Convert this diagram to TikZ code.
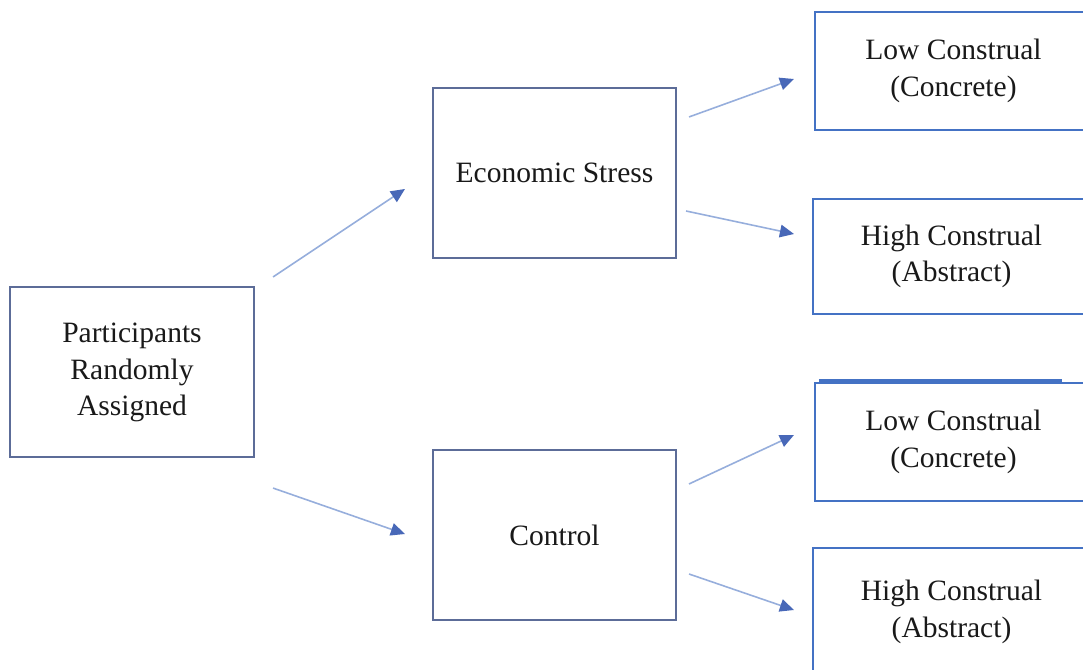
\documentclass[tikz,border=0pt]{standalone}
\usepackage{fontspec}
\setmainfont{Liberation Serif}
\usepackage{tikz}
\usetikzlibrary{arrows.meta}

\definecolor{slateline}{RGB}{92,108,152}
\definecolor{boxblue}{RGB}{68,114,196}
\definecolor{arrowblue}{RGB}{150,174,220}
\definecolor{headblue}{RGB}{72,104,184}

\begin{document}
\begin{tikzpicture}[every node/.style={font=\fontsize{8.4}{10.4}\selectfont, text=black!90, align=center, inner sep=0pt},
	midbox/.style={draw=slateline, line width=0.6pt, minimum width=2.43cm, minimum height=1.70cm},
	endbox/.style={draw=boxblue, line width=0.6pt, minimum width=2.77cm, minimum height=1.17cm},
	arr/.style={draw=arrowblue, line width=0.45pt, -{Triangle[length=4pt, width=3.6pt, color=headblue, fill=headblue]}}]
	\clip (0,0) rectangle (10.83,6.69);
	\fill[white] (0,0) rectangle (10.83,6.69);
	\node[midbox, minimum width=2.44cm] (part) at (1.32,2.97) {\raisebox{-0.05cm}{\begin{tabular}{@{}c@{}}Participants\\Randomly\\Assigned\end{tabular}}};
	\node[midbox] (econ) at (5.545,4.96) {Economic Stress};
	\node[midbox] (control) at (5.545,1.34) {Control};
	\node[endbox, minimum height=1.18cm] (lowA) at (9.535,5.98) {Low Construal\\(Concrete)};
	\node[endbox, minimum height=1.15cm] (highA) at (9.515,4.125) {High Construal\\(Abstract)};
	\node[endbox, minimum height=1.18cm] (lowB) at (9.535,2.27) {Low Construal\\(Concrete)};
	\node[endbox, minimum height=1.28cm] (highB) at (9.515,0.57) {High Construal\\(Abstract)};
	\draw[boxblue, line width=0.7pt] ([shift={(0.05,0.015)}]lowB.north west) -- ([shift={(2.48,0.015)}]lowB.north west);
	% arrows between the boxes
	\draw[arr] ([shift={(0.18,0.09)}]part.north east) -- ([shift={(-0.27,-0.16)}]econ.west);
	\draw[arr] ([shift={(0.18,-0.30)}]part.south east) -- ([shift={(-0.27,0.01)}]control.west);
	\draw[arr] ([shift={(0.12,-0.30)}]econ.north east) -- ([shift={(-0.20,-0.08)}]lowA.west);
	\draw[arr] ([shift={(0.09,-0.38)}]econ.east) -- ([shift={(-0.18,0.225)}]highA.west);
	\draw[arr] ([shift={(0.12,-0.35)}]control.north east) -- ([shift={(-0.20,0.07)}]lowB.west);
	\draw[arr] ([shift={(0.12,-0.39)}]control.east) -- ([shift={(-0.18,0.02)}]highB.west);
\end{tikzpicture}
\end{document}
